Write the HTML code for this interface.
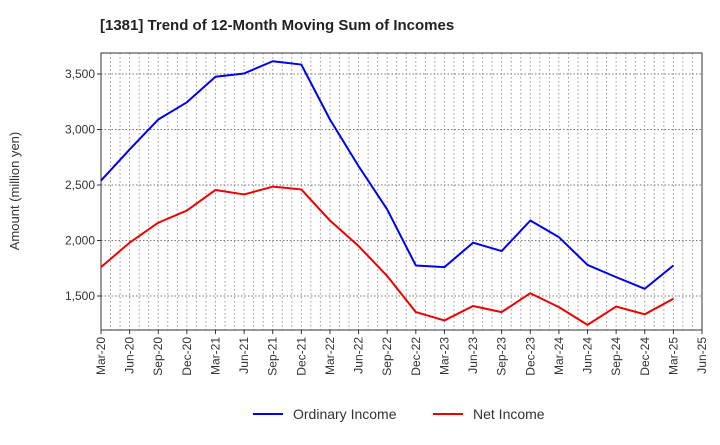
<!DOCTYPE html>
<html><head><meta charset="utf-8"><style>
body{margin:0;background:#fff;font-family:"Liberation Sans",sans-serif;}
</style></head><body>
<svg width="720" height="440" xmlns="http://www.w3.org/2000/svg">
<text x="100" y="30" font-size="15" font-weight="bold" fill="#222">[1381]  Trend of 12-Month Moving Sum of Incomes</text>
<g id="grid"></g>
<g id="axes"></g>
<g id="series"></g>
<text transform="translate(19,191) rotate(-90)" text-anchor="middle" font-size="13" fill="#333">Amount (million yen)</text>
<g>
<g><line x1="253" y1="414" x2="283" y2="414" stroke="#0000ee" stroke-width="2"/><text x="293" y="419" font-size="14" fill="#333">Ordinary Income</text></g>
<g><line x1="433" y1="414" x2="463" y2="414" stroke="#ee0000" stroke-width="2"/><text x="473" y="419" font-size="14" fill="#333">Net Income</text></g>
</g>
</svg>
<script>
const categories=["Mar-20","Jun-20","Sep-20","Dec-20","Mar-21","Jun-21","Sep-21","Dec-21","Mar-22","Jun-22","Sep-22","Dec-22","Mar-23","Jun-23","Sep-23","Dec-23","Mar-24","Jun-24","Sep-24","Dec-24","Mar-25","Jun-25"];
const ordinaryIncome=[2540,2820,3090,3245,3475,3505,3615,3585,3090,2670,2280,1775,1760,1980,1905,2180,2030,1780,1670,1565,1775];
const netIncome=[1760,1980,2160,2270,2455,2415,2485,2460,2180,1950,1680,1355,1280,1410,1355,1525,1400,1240,1405,1335,1475];
const yTicks=[1500,2000,2500,3000,3500];
const yTickLabels=["1,500","2,000","2,500","3,000","3,500"];
const L=101,R=702,T=53,B=330;
const ns="http://www.w3.org/2000/svg";
function xs(i){return L+i*(R-L)/(categories.length-1);}
function ys(v){return 296-(v-1500)*(222/2000);}
function mk(tag,attrs,parent){const e=document.createElementNS(ns,tag);for(const k in attrs)e.setAttribute(k,attrs[k]);parent.appendChild(e);return e;}
const grid=document.getElementById('grid'),axes=document.getElementById('axes'),series=document.getElementById('series');
const nMonths=(categories.length-1)*3;
for(let m=1;m<nMonths;m++){const x=L+m*(R-L)/nMonths;
const l=mk('line',{x1:x,x2:x,y1:T,y2:B,stroke:'#999','stroke-width':1,'stroke-dasharray':'1.5,2.5'},grid);

}
yTicks.forEach((v,i)=>{const y=ys(v);
const l=mk('line',{x1:L,x2:R,y1:y,y2:y,stroke:'#777','stroke-width':1,'stroke-dasharray':'1.5,2'},grid);


mk('line',{x1:L-4,x2:L,y1:y,y2:y,stroke:'#333'},axes);
const t=mk('text',{x:L-6,y:y+4,'text-anchor':'end','font-size':12,fill:'#333'},axes);t.textContent=yTickLabels[i];

});
const fr=mk('rect',{x:L,y:T,width:R-L,height:B-T,fill:'none',stroke:'#333','stroke-width':1},axes);


categories.forEach((c,i)=>{const x=xs(i);
mk('line',{x1:x,x2:x,y1:B,y2:B+4,stroke:'#333'},axes);
const t=mk('text',{x:0,y:0,transform:`translate(${x+4},${B+7}) rotate(-90)`,'text-anchor':'end','font-size':12,fill:'#333'},axes);t.textContent=c;

});
function line(data,color,name){const p=mk('polyline',{points:data.map((v,i)=>xs(i)+','+ys(v)).join(' '),fill:'none',stroke:color,'stroke-width':2,'stroke-linejoin':'round'},series);

}
line(ordinaryIncome,'#0000ee','ordinary-income-line');
line(netIncome,'#ee0000','net-income-line');
</script>
</body></html>
